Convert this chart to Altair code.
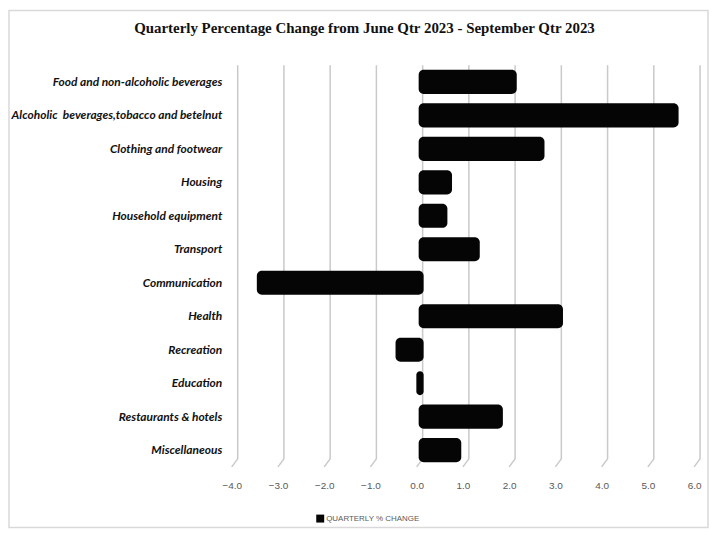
import altair as alt
import pandas as pd

categories = [
    "Food and non-alcoholic beverages",
    "Alcoholic\u00a0 beverages,tobacco and betelnut",
    "Clothing and footwear",
    "Housing",
    "Household equipment",
    "Transport",
    "Communication",
    "Health",
    "Recreation",
    "Education",
    "Restaurants & hotels",
    "Miscellaneous",
]
changes = [2.1, 5.6, 2.7, 0.7, 0.6, 1.3, -3.5, 3.1, -0.5, -0.05, 1.8, 0.9]
series_name = "QUARTERLY % CHANGE"
grid_values = [-4, -3, -2, -1, 0, 1, 2, 3, 4, 5, 6]

W, H = 465, 404

df = pd.DataFrame({"category": categories, "change": changes, "series": series_name})
grid_df = pd.DataFrame({"g": grid_values})
frame_df = pd.DataFrame({"k": [0]})

xscale = alt.Scale(domain=[-4, 6], nice=False, zero=False)
xaxis = alt.Axis(
    values=grid_values, format=".1f", grid=False, domain=False, ticks=False, tickSize=0,
    labelFlush=False, labelFont="Liberation Sans", labelFontSize=10, labelColor="#595959",
    labelPadding=14, title=None,
)

grid = alt.Chart(grid_df).mark_rule(color="#c9c9c9", strokeWidth=1.5, xOffset=6).encode(
    x=alt.X("g:Q", scale=xscale, axis=xaxis),
    y=alt.value(0),
    y2=alt.value(H - 8),
)
slant = alt.Chart(grid_df).mark_rule(color="#c9c9c9", strokeWidth=1.5, xOffset=6, x2Offset=0).encode(
    x=alt.X("g:Q", scale=xscale),
    x2=alt.X2("g:Q"),
    y=alt.value(H - 8),
    y2=alt.value(H),
)

bars = alt.Chart(df).mark_bar(
    cornerRadius=5,
    xOffset=alt.expr("datum.change < 0 ? 2 : 3"),
    x2Offset=alt.expr("datum.change < 0 ? 7 : 2"),
).encode(
    x=alt.X("change:Q", scale=xscale),
    x2=alt.datum(0),
    y=alt.Y(
        "category:N", sort=categories,
        scale=alt.Scale(paddingInner=0.28, paddingOuter=0.14),
        axis=alt.Axis(
            title=None, domain=False, ticks=False, tickSize=0, labelPadding=10,
            labelFont="Lato", labelFontSize=12, labelFontStyle="italic", labelFontWeight="bold",
            labelColor="#111111", labelLimit=400,
        ),
    ),
    color=alt.Color(
        "series:N",
        scale=alt.Scale(range=["#050505"]),
        legend=alt.Legend(
            title=None, orient="none", legendX=85, legendY=452, symbolType="square",
            symbolSize=64, symbolStrokeWidth=0, labelFont="Liberation Sans", labelFontSize=8,
            labelColor="#595959", labelOffset=2,
        ),
    ),
)

border = alt.Chart(frame_df).mark_rect(fill=None, stroke="#d9d9d9", strokeWidth=1.5).encode(
    x=alt.value(-224), x2=alt.value(W + 14), y=alt.value(-55), y2=alt.value(H + 61),
)

chart = alt.layer(border, grid, slant, bars).properties(
    width=W,
    height=H,
    title=alt.TitleParams(
        "Quarterly Percentage Change from June Qtr 2023 - September Qtr 2023",
        font="Liberation Serif", fontSize=15, fontWeight="bold", color="#111111",
        anchor="middle", frame="group", dx=-99, offset=-26,
    ),
    autosize=alt.AutoSizeParams(type="none"),
    padding={"left": 225, "top": 56, "right": 15, "bottom": 62},
).configure_view(stroke=None)

chart.save("out.html", embed_options={"renderer": "svg", "actions": False})
